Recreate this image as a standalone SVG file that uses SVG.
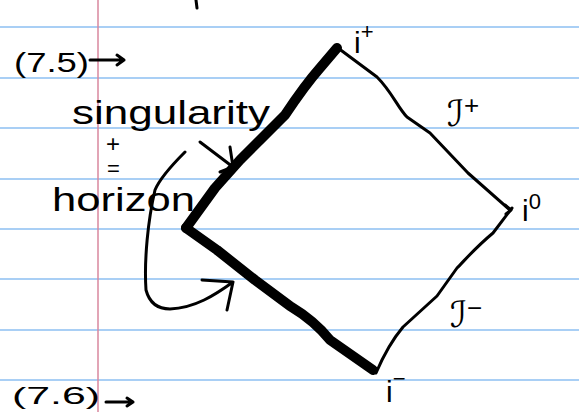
<svg xmlns="http://www.w3.org/2000/svg" width="579" height="412" viewBox="0 0 579 412">
<style>
.rule{stroke:#a9cff5;stroke-width:2}
.ink{fill:none;stroke:#000;stroke-linecap:round;stroke-linejoin:round}
.thin{stroke-width:3}
.thick{stroke-width:10}
.hw{font-family:"Liberation Sans","DejaVu Sans",sans-serif;fill:#000}
</style>
<rect width="579" height="412" fill="#fff"/>
<g id="paper">
<line class="rule" x1="0" y1="27" x2="579" y2="27"/>
<line class="rule" x1="0" y1="78" x2="579" y2="78"/>
<line class="rule" x1="0" y1="128" x2="579" y2="128"/>
<line class="rule" x1="0" y1="179" x2="579" y2="179"/>
<line class="rule" x1="0" y1="229" x2="579" y2="229"/>
<line class="rule" x1="0" y1="279" x2="579" y2="279"/>
<line class="rule" x1="0" y1="330" x2="579" y2="330"/>
<line class="rule" x1="0" y1="380" x2="579" y2="380"/>
<line x1="98" y1="0" x2="98" y2="412" stroke="#d9879e" stroke-width="1.5"/>
</g>
<g id="diagram">
<path class="ink thin" d="M196 0 L197 8"/>
<path class="ink thick" d="M337 48 L320 68 C305 85 295 100 285 115 L240 160 L215 188 L186 228" stroke-width="11"/>
<path class="ink thick" d="M186 228 L217 250 L255 280 L290 306 C305 315 318 325 330 340 L373 370"/>
<path class="ink thin" d="M338 48 L377 77 C392 92 398 108 407 117 L430 133 L468 173 L510 210"/>
<path class="ink thin" d="M505 205 L511 210 L506 214"/>
<path class="ink thin" d="M512 208 L493 233 C475 248 465 260 457 268 L437 296 L403 327 C392 340 385 352 376 373"/>
<path class="ink thin" d="M200 142 L233 167 M230 147 L233 167 L220 172"/>
<path class="ink thin" d="M185 152 C172 165 160 178 155 190 C148 220 144 260 146 290 C150 305 160 309 170 309 C195 308 215 295 233 282 M202 280 L233 282 L227 310"/>
<path class="ink thin" d="M90 60 L124 60 L117 55 M124 60 L117 65"/>
<path class="ink thin" d="M106 402 L133 402 L127 398 M133 402 L127 406"/>
</g>
<g id="labels">
<text class="hw" x="14" y="72" font-size="28" textLength="75" lengthAdjust="spacingAndGlyphs">(7.5)</text>
<text class="hw" x="72" y="124" font-size="34" textLength="198" lengthAdjust="spacingAndGlyphs">singularity</text>
<text class="hw" x="106" y="152" font-size="24">+</text>
<text class="hw" x="107" y="176" font-size="22">=</text>
<text class="hw" x="52" y="211" font-size="34" textLength="143" lengthAdjust="spacingAndGlyphs">horizon</text>
<text class="hw" x="354" y="53" font-size="30">i<tspan font-size="22" dy="-14">+</tspan></text>
<text class="hw" x="447" y="126" font-size="36">ℐ<tspan font-size="26" dy="-12">+</tspan></text>
<text class="hw" x="522" y="221" font-size="30">i<tspan font-size="22" dy="-12">0</tspan></text>
<text class="hw" x="450" y="327" font-size="36">ℐ<tspan font-size="26" dy="-10">−</tspan></text>
<text class="hw" x="386" y="402" font-size="30">i<tspan font-size="22" dy="-16">−</tspan></text>
<text class="hw" x="12" y="404" font-size="24" textLength="88" lengthAdjust="spacingAndGlyphs">(7.6)</text>
</g>
</svg>
